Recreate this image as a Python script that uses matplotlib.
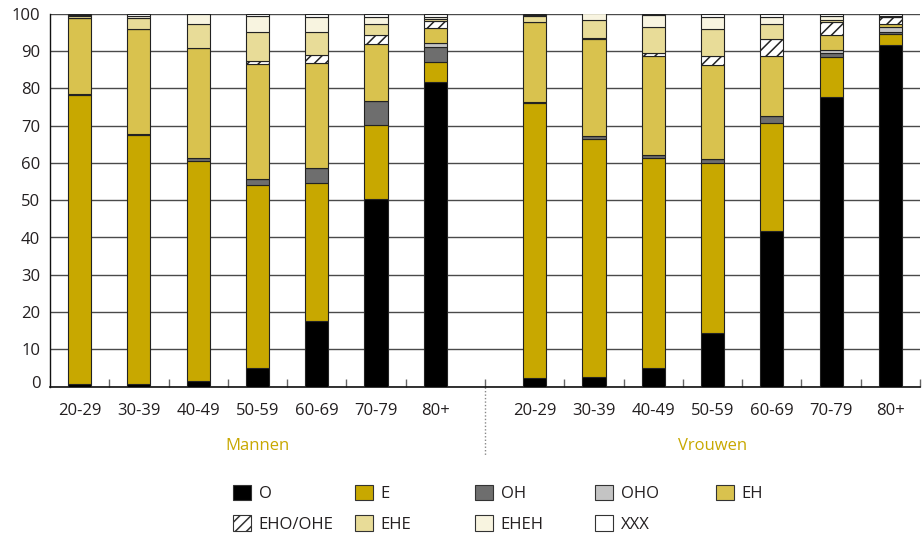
import matplotlib
matplotlib.use("Agg")
import matplotlib.pyplot as plt
import matplotlib.transforms as mtransforms
from matplotlib.patches import Patch
import numpy as np

plt.rcParams['font.family'] = ['Open Sans', 'DejaVu Sans']
plt.rcParams['hatch.color'] = 'black'
plt.rcParams['hatch.linewidth'] = 1.1

age_groups = ["20-29", "30-39", "40-49", "50-59", "60-69", "70-79", "80+"]
group_names = ["Mannen", "Vrouwen"]
categories = ["O", "E", "OH", "OHO", "EH", "EHO/OHE", "EHE", "EHEH", "XXX"]

# Mannen: share (%) per category, per age group
men_O       = [0.8, 0.8, 1.5, 4.9, 17.6, 50.2, 81.7]
men_E       = [77.4, 66.6, 59.0, 49.2, 36.9, 19.9, 5.4]
men_OH      = [0.4, 0.4, 0.7, 1.6, 4.1, 6.4, 3.9]
men_OHO     = [0.0, 0.0, 0.0, 0.0, 0.0, 0.0, 1.1]
men_EH      = [20.2, 28.0, 29.5, 30.8, 28.3, 15.4, 4.2]
men_EHO     = [0.0, 0.0, 0.0, 0.8, 1.9, 2.4, 1.8]
men_EHE     = [0.6, 3.0, 6.5, 7.9, 6.4, 2.9, 0.5]
men_EHEH    = [0.3, 0.7, 2.6, 4.3, 4.0, 1.8, 0.5]
men_XXX     = [0.3, 0.5, 0.2, 0.5, 0.8, 1.0, 0.9]

# Vrouwen
women_O     = [2.2, 2.5, 4.9, 14.3, 41.7, 77.7, 91.6]
women_E     = [73.8, 63.8, 56.3, 45.6, 29.1, 10.6, 2.9]
women_OH    = [0.4, 0.9, 0.9, 1.1, 1.9, 1.1, 0.5]
women_OHO   = [0.0, 0.0, 0.0, 0.0, 0.0, 0.9, 1.5]
women_EH    = [21.3, 26.0, 26.6, 25.2, 16.0, 4.0, 0.7]
women_EHO   = [0.0, 0.3, 0.7, 2.5, 4.4, 3.4, 1.8]
women_EHE   = [1.8, 4.9, 7.1, 7.1, 4.1, 0.6, 0.2]
women_EHEH  = [0.2, 1.7, 3.1, 3.4, 1.8, 1.0, 0.2]
women_XXX   = [0.3, 0.2, 0.4, 0.8, 1.0, 0.7, 0.6]

men = [men_O, men_E, men_OH, men_OHO, men_EH, men_EHO, men_EHE, men_EHEH, men_XXX]
women = [women_O, women_E, women_OH, women_OHO, women_EH, women_EHO, women_EHE, women_EHEH, women_XXX]

colors = ["#000000", "#C8A800", "#6E6E6E", "#C4C4C4", "#D9C24E",
          "#FFFFFF", "#E8DC98", "#F8F4E0", "#FFFFFF"]
hatches = [None, None, None, None, None, "///", None, None, None]

fig = plt.figure(figsize=(9.23, 5.36), dpi=100)
W, H = 923, 536
ax = fig.add_axes([50 / W, 1 - 386.7 / H, 870 / W, (386.7 - 13.7) / H])

n = len(age_groups)
gap = 0.68
x_men = np.arange(n)
x_women = np.arange(n) + n + gap
bw = 0.39

for xs, data in ((x_men, men), (x_women, women)):
    bottom = np.zeros(n)
    for vals, c, h in zip(data, colors, hatches):
        vals = np.array(vals)
        ax.bar(xs, vals, bw, bottom=bottom, color=c, edgecolor="#222222",
               linewidth=0.8, hatch=h, zorder=3)
        bottom += vals

ax.set_xlim(-0.5, 2 * n - 0.5 + gap)
ax.set_ylim(0, 100)
ax.set_yticks(np.arange(0, 101, 10))
ax.yaxis.grid(True, color="#4a4a4a", linewidth=1.0, zorder=0)
ax.set_axisbelow(True)
for s in ("top", "right"):
    ax.spines[s].set_visible(False)
ax.spines["left"].set_color("#111111")
ax.spines["bottom"].set_color("#111111")
ax.spines["left"].set_linewidth(1.0)
ax.spines["bottom"].set_linewidth(1.2)

ax.set_xticks(np.concatenate([x_men, x_women]))
ax.set_xticklabels(age_groups + age_groups)
ax.tick_params(axis="x", length=0, pad=12, labelsize=12, labelcolor="#231F20")
ax.tick_params(axis="y", length=0, pad=7, labelsize=12, labelcolor="#231F20")

# the "0" label sits a little above the baseline in the reference
zero_lbl = ax.get_yticklabels()[0]
zero_lbl.set_transform(zero_lbl.get_transform() +
                       mtransforms.ScaledTranslation(0, 5 / 100, fig.dpi_scale_trans))

sep = n - 0.5 + gap / 2
minor = list(x_men[:-1] + 0.5) + [sep] + list(x_women[:-1] + 0.5) + [x_women[-1] + 0.5]
ax.set_xticks(minor, minor=True)
ax.tick_params(axis="x", which="minor", direction="in", length=6, width=1.0, color="#666666")

trans = mtransforms.blended_transform_factory(ax.transData, ax.transAxes)
ax.plot([sep, sep], [0, -0.183], transform=trans, clip_on=False,
        color="#888888", linestyle=(0, (1, 1.5)), linewidth=1.0)
for name, xs in zip(group_names, (x_men, x_women)):
    ax.text(xs.mean(), -0.16, name, transform=trans, ha="center", va="center",
            fontsize=12, color="#C8A800")

handles = [Patch(facecolor=c, edgecolor="#333333", linewidth=0.8, hatch=h)
           for c, h in zip(colors, hatches)]
col_x = [233, 355, 475, 595, 716]
for ci, cx in enumerate(col_x):
    idx = [i for i in (ci, ci + 5) if i < len(categories)]
    fig.legend([handles[i] for i in idx], [categories[i] for i in idx],
               loc="upper left", bbox_to_anchor=(cx / W, 1 - 485 / H),
               frameon=False, fontsize=12, borderpad=0, borderaxespad=0,
               handlelength=1.05, handleheight=1.05, handletextpad=0.5,
               labelspacing=0.78, labelcolor="#231F20")

fig.savefig("out.png", dpi=100)
